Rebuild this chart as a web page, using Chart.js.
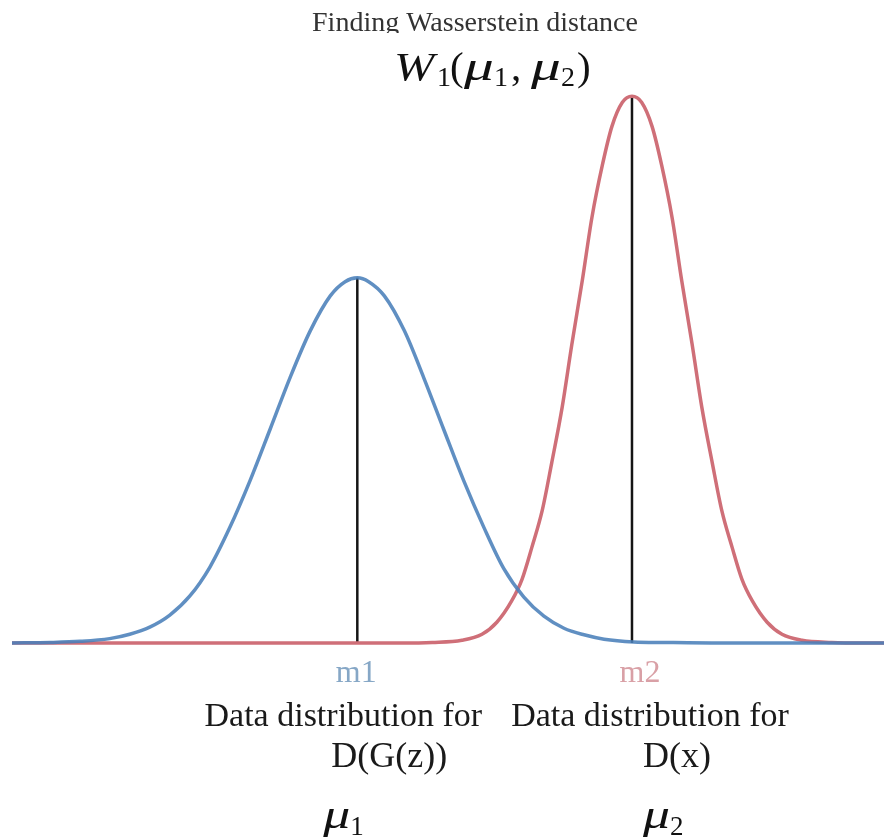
<!DOCTYPE html>
<html>
<head>
<meta charset="utf-8">
<script src="https://cdn.jsdelivr.net/npm/chart.js@4/dist/chart.umd.min.js"></script>
<style>
  html, body { margin: 0; padding: 0; background: #ffffff; }
  canvas { display: block; }
</style>
</head>
<body>
<canvas id="c" width="884" height="840"></canvas>
<script>
// Sampled density of the generated distribution D(G(z))
const genX = [0.00, 0.44, 0.78, 1.12, 1.35, 1.58, 1.81, 2.04, 2.27, 2.50, 2.73, 2.96, 3.19, 3.42, 3.65, 3.82, 3.96,
              4.09, 4.27, 4.50, 4.72, 4.95, 5.18, 5.41, 5.64, 5.87, 6.10, 6.33, 6.56, 6.79, 7.13, 7.48, 8.12, 10.00];
const genY = [0.000, 0.001, 0.003, 0.008, 0.016, 0.029, 0.051, 0.086, 0.139, 0.212, 0.297, 0.391, 0.486, 0.571, 0.635, 0.661, 0.668,
              0.661, 0.635, 0.571, 0.486, 0.391, 0.297, 0.212, 0.136, 0.084, 0.049, 0.027, 0.015, 0.007, 0.002, 0.001, 0.000, 0.000];

// Sampled density of the real data distribution D(x)
const realX = [0.00, 4.47, 4.82, 5.16, 5.39, 5.56, 5.73, 5.85, 5.96, 6.08, 6.19, 6.31, 6.42, 6.54, 6.65, 6.77, 6.88, 7.00, 7.11,
               7.22, 7.34, 7.45, 7.57, 7.68, 7.80, 7.91, 8.03, 8.14, 8.26, 8.37, 8.49, 8.66, 8.83, 9.06, 9.40, 9.75, 10.00];
const realY = [0.000, 0.000, 0.001, 0.005, 0.016, 0.038, 0.077, 0.117, 0.174, 0.242, 0.330, 0.432, 0.546, 0.663, 0.778, 0.874, 0.945, 0.989, 1.000,
               0.989, 0.945, 0.874, 0.778, 0.663, 0.546, 0.432, 0.330, 0.242, 0.174, 0.117, 0.077, 0.038, 0.016, 0.005, 0.001, 0.000, 0.000];

// Means and peak heights of the two distributions
const means = [3.96, 7.11];
const peaks = [0.668, 1.000];

// Text
const titleText = 'Finding Wasserstein distance';
const meanLabels = ['m1', 'm2'];
const captions = [['Data distribution for', 'D(G(z))'], ['Data distribution for', 'D(x)']];
const measureNames = ['1', '2'];

const BLUE = 'rgba(74, 128, 186, 0.88)';
const RED = '#cf6f78';
const pts = (xs, ys) => xs.map((x, i) => ({ x, y: ys[i] }));

const serif = '"Liberation Serif", "Times New Roman", serif';

// Draws glyph runs; each part carries its own left offset, baseline shift
// and an optional horizontal stretch (math-style wide glyphs)
function drawParts(ctx, parts, x0, y0, color) {
  ctx.save();
  ctx.textAlign = 'left';
  ctx.textBaseline = 'alphabetic';
  ctx.fillStyle = color;
  parts.forEach(p => {
    ctx.font = p.f;
    ctx.save();
    ctx.translate(x0 + p.dx, y0 + p.dy);
    ctx.scale(p.sx || 1, 1);
    ctx.fillText(p.t, 0, 0);
    ctx.restore();
  });
  ctx.restore();
}

const annotations = {
  id: 'annotations',
  afterDraw(chart) {
    const ctx = chart.ctx;
    const xs = chart.scales.x;
    const mx = means.map(m => xs.getPixelForValue(m));
    ctx.save();
    ctx.textBaseline = 'alphabetic';
    ctx.textAlign = 'center';

    // Title, cut off along its lower edge
    ctx.save();
    ctx.beginPath();
    ctx.rect(0, 0, chart.width, 33);
    ctx.clip();
    ctx.fillStyle = '#333333';
    ctx.font = '28px ' + serif;
    ctx.fillText(titleText, 475, 31);
    ctx.restore();

    // W_1(mu_1, mu_2)
    const main = 41, sub = 28, it = 'italic ';
    drawParts(ctx, [
      { t: 'W', f: it + main + 'px ' + serif, dx: 0, dy: 0, sx: 1.18 },
      { t: '1', f: sub + 'px ' + serif, dx: 43, dy: 6 },
      { t: '(', f: main + 'px ' + serif, dx: 56, dy: 0 },
      { t: 'μ', f: it + main + 'px ' + serif, dx: 70, dy: 0, sx: 1.45 },
      { t: '1', f: sub + 'px ' + serif, dx: 100, dy: 6 },
      { t: ',', f: main + 'px ' + serif, dx: 117, dy: 0 },
      { t: 'μ', f: it + main + 'px ' + serif, dx: 137, dy: 0, sx: 1.45 },
      { t: '2', f: sub + 'px ' + serif, dx: 167, dy: 6 },
      { t: ')', f: main + 'px ' + serif, dx: 183, dy: 0 }
    ], 394, 80, '#111111');

    // Mean labels
    ctx.font = '32px ' + serif;
    ctx.textAlign = 'center';
    ctx.fillStyle = '#86a7c6';
    ctx.fillText(meanLabels[0], mx[0] - 1, 682);
    ctx.fillStyle = '#d9a0a6';
    ctx.fillText(meanLabels[1], mx[1] + 8, 682);

    // Captions
    ctx.fillStyle = '#1a1a1a';
    ctx.font = '34px ' + serif;
    ctx.fillText(captions[0][0], mx[0] - 14, 726);
    ctx.fillText(captions[1][0], mx[1] + 18, 726);
    ctx.font = '36px ' + serif;
    ctx.fillText(captions[0][1], mx[0] + 32, 767);
    ctx.fillText(captions[1][1], mx[1] + 45, 767);
    ctx.restore();

    // mu_1, mu_2 below the captions
    const mu = (n) => [
      { t: 'μ', f: 'italic 39px ' + serif, dx: 0, dy: 0, sx: 1.38 },
      { t: n, f: '27px ' + serif, dx: 27, dy: 7 }
    ];
    drawParts(ctx, mu(measureNames[0]), mx[0] - 34, 828, '#111111');
    drawParts(ctx, mu(measureNames[1]), mx[1] + 11, 828, '#111111');
  }
};

new Chart(document.getElementById('c'), {
  type: 'line',
  data: {
    datasets: [
      {
        data: pts(genX, genY),
        borderColor: BLUE, borderWidth: 3.5,
        cubicInterpolationMode: 'monotone', pointRadius: 0, fill: false, clip: false
      },
      {
        data: pts(realX, realY),
        borderColor: RED, borderWidth: 3.5,
        cubicInterpolationMode: 'monotone', pointRadius: 0, fill: false, clip: false
      },
      {
        data: [{ x: means[0], y: 0 }, { x: means[0], y: peaks[0] }],
        borderColor: '#151515', borderWidth: 2.5, pointRadius: 0, clip: false
      },
      {
        data: [{ x: means[1], y: 0 }, { x: means[1], y: peaks[1] }],
        borderColor: '#151515', borderWidth: 2.5, pointRadius: 0, clip: false
      }
    ]
  },
  options: {
    responsive: false,
    animation: false,
    events: [],
    layout: { padding: { left: 12, right: 0, top: 69, bottom: 197 } },
    plugins: { legend: { display: false }, tooltip: { enabled: false }, title: { display: false } },
    scales: {
      x: { type: 'linear', min: 0, max: 10, display: false },
      y: { type: 'linear', min: 0, max: 1.05, display: false }
    }
  },
  plugins: [annotations]
});
</script>
</body>
</html>
